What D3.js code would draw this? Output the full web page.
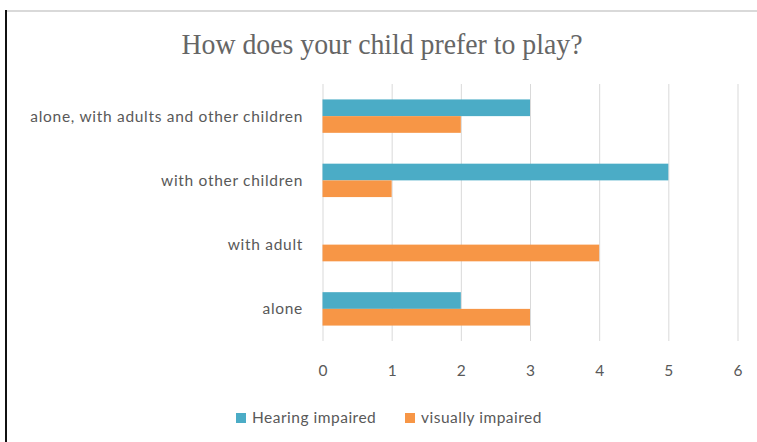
<!DOCTYPE html>
<html>
<head>
	<meta charset="utf-8">
	<title>How does your child prefer to play?</title>
	<script src="https://d3js.org/d3.v7.min.js"></script>
	<style>
		body { margin: 0; background: #fff; }
	</style>
</head>
<body>
	<script>
	var w = 757;
	var h = 442;

	// data, bottom category first as in the original sheet
	var categories = ["alone", "with adult", "with other children", "alone, with adults and other children"];
	var series = ["Hearing impaired", "visually impaired"];
	var hearing = [2, 0, 5, 3];
	var visually = [3, 4, 1, 2];
	var xTicks = [0, 1, 2, 3, 4, 5, 6];
	var colors = ["#4bacc6", "#f79646"];

	var rows = categories.map(function(c, i) {
		return { cat: c, values: [hearing[i], visually[i]] };
	});

	var plotLeft = 322.5, plotRight = 737.5, plotTop = 84, plotBottom = 341;
	var labelFont = "Lato, 'Open Sans', sans-serif";

	var svg = d3.select("body").append("svg")
		.attr("width", w)
		.attr("height", h);

	// frame lines
	svg.append("line")
		.attr("x1", 7).attr("x2", w).attr("y1", 11).attr("y2", 11)
		.attr("stroke", "#d9d9d9").attr("stroke-width", 2);
	svg.append("line")
		.attr("x1", 6).attr("x2", 6).attr("y1", 10).attr("y2", h)
		.attr("stroke", "#111").attr("stroke-width", 2);

	svg.append("text")
		.attr("x", 382).attr("y", 54)
		.attr("text-anchor", "middle")
		.attr("textLength", 401)
		.attr("lengthAdjust", "spacingAndGlyphs")
		.style("font-family", "'Liberation Serif', 'DejaVu Serif', serif")
		.style("font-size", "29px")
		.style("fill", "#666")
		.text("How does your child prefer to play?");

	var x = d3.scaleLinear().domain([0, 6]).range([plotLeft, plotRight]);
	var y = d3.scaleBand()
		.domain(categories.slice().reverse())
		.range([plotTop, plotBottom])
		.paddingInner(0.48)
		.paddingOuter(0.24);
	var ySub = d3.scaleBand().domain(series).range([0, y.bandwidth()]);

	// gridlines + tick labels
	var xAxis = svg.append("g")
		.attr("transform", "translate(0," + plotBottom + ")")
		.call(d3.axisBottom(x).tickValues(xTicks).tickFormat(d3.format("d"))
			.tickSize(-(plotBottom - plotTop)).tickPadding(24));
	xAxis.select(".domain").remove();
	xAxis.selectAll(".tick line").attr("stroke", "#d9d9d9");
	xAxis.selectAll(".tick text")
		.style("font-family", labelFont)
		.style("font-size", "15.5px")
		.style("fill", "#595959");

	var groups = svg.selectAll("g.cat")
		.data(rows)
		.enter()
		.append("g")
		.attr("class", "cat")
		.attr("transform", function(d) { return "translate(0," + y(d.cat) + ")"; });

	groups.selectAll("rect")
		.data(function(d) { return d.values; })
		.enter()
		.append("rect")
		.attr("x", x(0))
		.attr("y", function(d, i) { return ySub(series[i]); })
		.attr("width", function(d) { return x(d) - x(0); })
		.attr("height", ySub.bandwidth())
		.attr("fill", function(d, i) { return colors[i]; });

	svg.selectAll("text.cat")
		.data(categories)
		.enter()
		.append("text")
		.attr("class", "cat")
		.attr("x", 303)
		.attr("y", function(d) { return y(d) + y.bandwidth() / 2; })
		.attr("dy", "0.35em")
		.attr("text-anchor", "end")
		.style("font-family", labelFont)
		.style("font-size", "15.5px")
		.style("letter-spacing", "0.7px")
		.style("fill", "#595959")
		.text(function(d) { return d; });

	// legend
	var legX = [236, 405];
	var leg = svg.selectAll("g.leg")
		.data(series)
		.enter()
		.append("g")
		.attr("class", "leg")
		.attr("transform", function(d, i) { return "translate(" + legX[i] + ",413)"; });
	leg.append("rect")
		.attr("width", 10).attr("height", 10)
		.attr("fill", function(d, i) { return colors[i]; });
	leg.append("text")
		.attr("x", 16).attr("y", 5)
		.attr("dy", "0.35em")
		.style("font-family", labelFont)
		.style("font-size", "15.5px")
		.style("letter-spacing", "0.5px")
		.style("fill", "#595959")
		.text(function(d) { return d; });
	</script>
</body>
</html>
